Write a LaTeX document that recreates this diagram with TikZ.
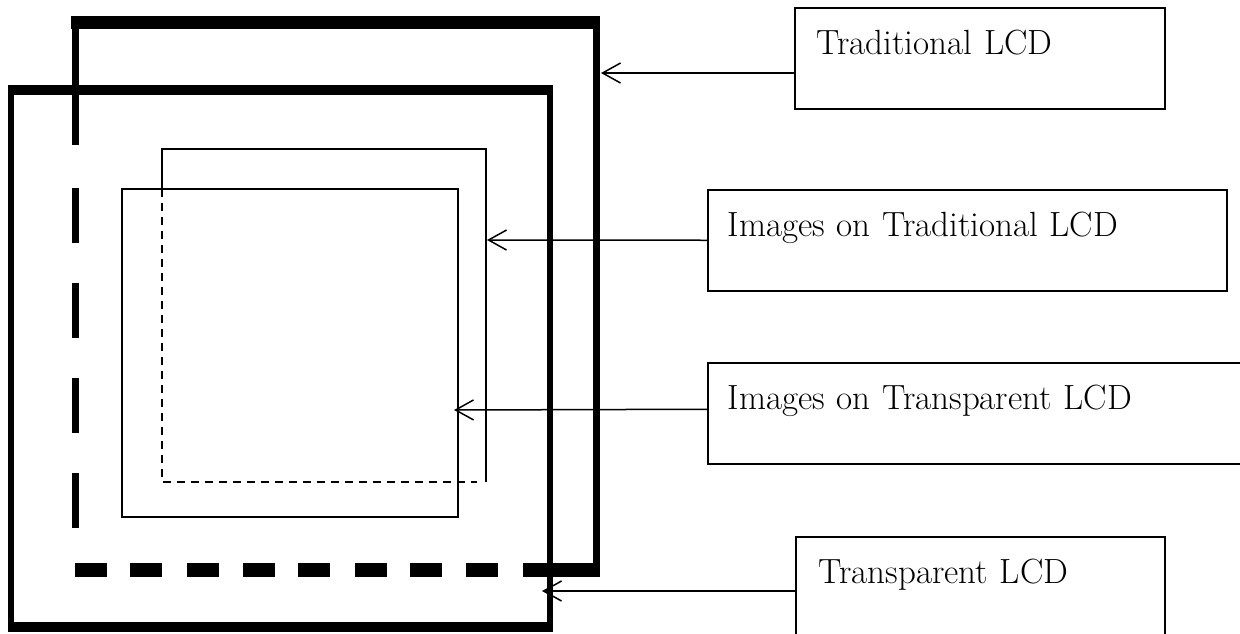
\documentclass[tikz,border=0pt]{standalone}
\usepackage{fontspec}
\usetikzlibrary{arrows.meta}
\begin{document}
\begin{tikzpicture}[x=1pt,y=-1pt,
  labelbox/.style={draw,line width=1.5pt,anchor=north west,inner ysep=0pt,align=left,
    font=\fontsize{35}{40}\selectfont,text height=47pt},
  arr/.style={line width=1.5pt,-{Straight Barb[length=18pt,width=20pt,line width=1.5pt]}},
  thickh/.style={line width=13pt},
  thickv/.style={line width=7pt},
  fronth/.style={line width=10pt},
  frontv/.style={line width=6pt},
  imgline/.style={line width=1.5pt},
  imgdash/.style={line width=1.5pt,dash pattern=on 8pt off 6pt}]
\useasboundingbox (0,0) rectangle (1240,633);

% Traditional LCD frame (back)
\draw[thickh] (71,22.5) -- (600,22.5);
\draw[thickv] (596.5,16) -- (596.5,577);
\draw[thickv] (75,16) -- (75,145);
\foreach \a in {188,283,378,473} \draw[thickv] (75,\a) -- (75,\a+55);
\foreach \a in {75,130,187,243,298,355,410,466} \draw[line width=14pt] (\a,570) -- (\a+32,570);
\draw[line width=14pt] (523,570) -- (600,570);

% Transparent LCD frame (front)
\draw[fronth] (8,90) -- (553,90);
\draw[fronth] (8,627) -- (553,627);
\draw[frontv] (11,85) -- (11,632);
\draw[frontv] (550,85) -- (550,632);

% Images on Transparent LCD
\draw[line width=2pt] (122,189) rectangle (458,517);
% Images on Traditional LCD
\draw[imgline] (162,189) -- (162,149) -- (486,149) -- (486,482);
\draw[imgdash] (162,189) -- (162,482) -- (477,482);

% label boxes
\node[labelbox,inner xsep=22pt,text width=326pt,text depth=54pt] (box1) at (794,7) {Traditional LCD};
\node[labelbox,inner xsep=20pt,text width=479pt,text depth=54pt] (box2) at (707,189) {Images on Traditional LCD};
\node[labelbox,inner xsep=20pt,text width=520pt,text depth=54pt] (box3) at (707,362) {Images on Transparent LCD};
\node[labelbox,inner xsep=23pt,text width=323pt,text depth=73pt] (box4) at (795,536) {Transparent LCD};

% connectors
\coordinate (t1) at (601,73);
\coordinate (t2) at (487,240);
\coordinate (t3) at (454,410);
\coordinate (t4) at (542,591);
\draw[arr] (box1.west |- t1) -- (t1);
\draw[arr] (box2.west) -- (t2);
\draw[arr] ([yshift=4pt]box3.west) -- (t3);
\draw[arr] (box4.west |- t4) -- (t4);
\end{tikzpicture}
\end{document}
